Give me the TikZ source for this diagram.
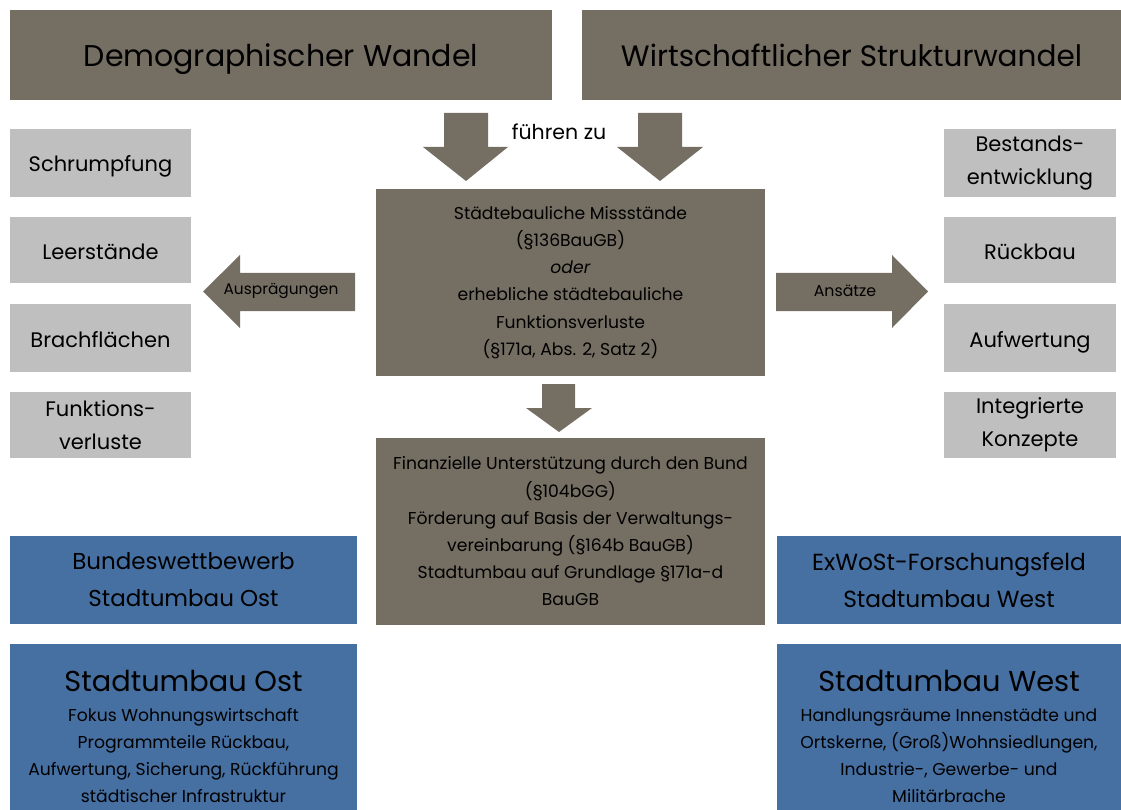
\documentclass[tikz,border=0pt]{standalone}
\usepackage{fontspec}
\setmainfont{Poppins}
\definecolor{umbra}{HTML}{756E63}
\definecolor{hellgrau}{HTML}{BFBFBF}
\definecolor{stahlblau}{HTML}{466FA2}
\newcommand{\fs}[2]{\fontsize{#1}{#2}\selectfont}
\begin{document}
\begin{tikzpicture}[x=1pt,y=-1pt,
  box/.style={inner sep=0pt, outer sep=0pt, align=center, text=black},
  ursache/.style={box, fill=umbra, font=\fs{30}{36}, text height=24pt, text depth=0pt},
  merkmal/.style={box, fill=hellgrau, font=\fs{21}{33}},
  einzeilig/.style={text height=18pt, text depth=0pt},
  kern/.style={box, fill=umbra, font=\fs{17.2}{27.2}},
  programm/.style={box, fill=stahlblau},
  blockpfeil/.style={fill=umbra}]
\useasboundingbox (0,0) rectangle (1121,810);

% causes
\node[ursache, minimum width=542, minimum height=90] (demo) at (281,55) {Demographischer Wandel};
\node[ursache, minimum width=539, minimum height=90, font=\fs{29.5}{36}] (wirt) at (851.5,55) {Wirtschaftlicher Strukturwandel};

% arrows down into the central box
\fill[blockpfeil] (444,113) -- (488,113) -- (488,147) -- (508,147) -- (466,181) -- (423,147) -- (444,147) -- cycle;
\fill[blockpfeil] (638,113) -- (682,113) -- (682,147) -- (703,147) -- (660,181) -- (617,147) -- (638,147) -- cycle;
\node[font=\fs{20.5}{22}] (fz) at (559,132) {führen zu};

% central boxes
\node[kern, minimum width=389, minimum height=187] (miss) at (570.5,282.5)
  {Städtebauliche Missstände\\(§136BauGB)\\\textit{oder}\\erhebliche städtebauliche\\Funktionsverluste\\(§171a, Abs. 2, Satz 2)};
\fill[blockpfeil] (542,384) -- (575,384) -- (575,408) -- (592,408) -- (559,432) -- (526,408) -- (542,408) -- cycle;
\node[kern, minimum width=389, minimum height=187] (foerd) at (570.5,531.5)
  {Finanzielle Unterstützung durch den Bund\\(§104bGG)\\Förderung auf Basis der Verwaltungs-\\vereinbarung (§164b BauGB)\\Stadtumbau auf Grundlage §171a-d\\BauGB};

% side arrows
\fill[blockpfeil] (355,273) -- (240,273) -- (240,255) -- (203,291.5) -- (240,328) -- (240,311) -- (355,311) -- cycle;
\node[font=\fs{15.4}{17}] (ausp) at (281,291) {Ausprägungen};
\fill[blockpfeil] (776,273) -- (892,273) -- (892,255) -- (928,291.5) -- (892,328) -- (892,311) -- (776,311) -- cycle;
\node[font=\fs{15.8}{17}] (ans) at (845,291) {Ansätze};

% manifestations (left)
\node[merkmal, einzeilig, minimum width=181, minimum height=68] (schr) at (100.5,163) {Schrumpfung};
\node[merkmal, einzeilig, minimum width=181, minimum height=66] (leer) at (100.5,250) {Leerstände};
\node[merkmal, einzeilig, minimum width=181, minimum height=68] (brach) at (100.5,338) {Brachflächen};
\node[merkmal, minimum width=181, minimum height=66] (funk) at (100.5,425) {Funktions-\\verluste};

% approaches (right)
\node[merkmal, minimum width=172, minimum height=68] (best) at (1030,163) {Bestands-\\entwicklung};
\node[merkmal, einzeilig, minimum width=172, minimum height=66] (rueck) at (1030,250) {Rückbau};
\node[merkmal, einzeilig, minimum width=172, minimum height=68] (aufw) at (1030,338) {Aufwertung};
\node[merkmal, minimum width=172, minimum height=66] (integ) at (1030,425) {Integrierte\\Konzepte};

% programmes
\node[programm, minimum width=347, minimum height=88, font=\fs{23}{37}] (bwo) at (183.5,580)
  {Bundeswettbewerb\\Stadtumbau Ost};
\node[programm, minimum width=344, minimum height=88, font=\fs{23.3}{37}] (exw) at (949,580)
  {ExWoSt-Forschungsfeld\\Stadtumbau West};
\fill[stahlblau] (10,644) rectangle (357,810);
\fill[stahlblau] (777,644) rectangle (1121,810);
\node[font=\fs{28.8}{34}] (sto) at (183.5,681) {Stadtumbau Ost};
\node[font=\fs{17.2}{27}, align=center, anchor=north] (stot) at (183.5,705)
  {Fokus Wohnungswirtschaft\\Programmteile Rückbau,\\Aufwertung, Sicherung, Rückführung\\städtischer Infrastruktur};
\node[font=\fs{28.8}{34}] (stw) at (949,681) {Stadtumbau West};
\node[font=\fs{17.2}{27}, align=center, anchor=north] (stwt) at (949,705)
  {Handlungsräume Innenstädte und\\Ortskerne, (Groß)Wohnsiedlungen,\\Industrie-, Gewerbe- und\\Militärbrache};
\end{tikzpicture}
\end{document}
